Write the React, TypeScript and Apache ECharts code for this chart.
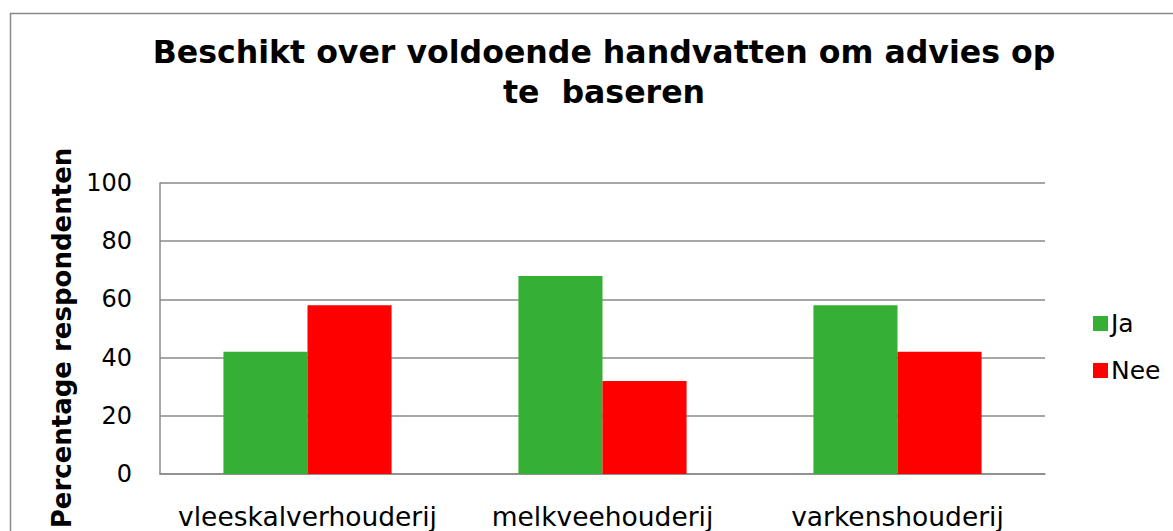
import React, { useEffect, useRef } from "react";
import * as echarts from "echarts";

const categories = ["vleeskalverhouderij", "melkveehouderij", "varkenshouderij"];
const jaValues = [42, 68, 58];
const neeValues = [58, 32, 42];
const seriesNames = ["Ja", "Nee"];
const titleLines = ["Beschikt over voldoende handvatten om advies op", "te  baseren"];
const yAxisName = "Percentage respondenten";

const FONT = "Verdana, 'DejaVu Sans', sans-serif";

export default function App() {
  const ref = useRef<HTMLDivElement>(null);
  useEffect(() => {
    if (!ref.current) return;
    const chart = echarts.init(ref.current, undefined, { renderer: "svg" });
    chart.setOption({
      animation: false,
      backgroundColor: "#ffffff",
      textStyle: { fontFamily: FONT },
      title: {
        text: titleLines.join("\n"),
        left: 599,
        top: 27,
        textAlign: "center",
        textStyle: {
          fontFamily: FONT,
          fontWeight: "bold",
          fontSize: 31.6,
          lineHeight: 40,
          color: "#000",
        },
      },
      graphic: [
        {
          type: "rect",
          shape: { x: 10.5, y: 13.5, width: 1300, height: 700 },
          style: { fill: "none", stroke: "#8a8a8a", lineWidth: 1.5 },
          silent: true,
        },
        {
          type: "text",
          x: 62,
          y: 338,
          rotation: Math.PI / 2,
          style: {
            text: yAxisName,
            fontFamily: FONT,
            fontWeight: "bold",
            fontSize: 26,
            fill: "#000",
            align: "center",
            verticalAlign: "middle",
          },
        },
      ],
      legend: {
        orient: "vertical",
        left: 1088,
        top: 306,
        itemWidth: 15,
        itemHeight: 15,
        itemGap: 22,
        icon: "rect",
        textStyle: { fontFamily: FONT, fontSize: 25, color: "#000", padding: [0, 0, 0, -2] },
        data: seriesNames,
      },
      grid: { left: 160, top: 183, right: 128, bottom: 57, containLabel: false },
      xAxis: {
        type: "category",
        data: categories,
        axisLine: { show: true, lineStyle: { color: "#8a8a8a", width: 1.5 } },
        axisTick: { show: false },
        axisLabel: { color: "#000", fontSize: 26.5, margin: 29, interval: 0, fontFamily: FONT },
      },
      yAxis: {
        type: "value",
        min: 0,
        max: 100,
        interval: 20,
        axisLine: { show: true, lineStyle: { color: "#8a8a8a", width: 1.5 } },
        axisTick: { show: false },
        axisLabel: { color: "#000", fontSize: 24, margin: 28, fontFamily: FONT },
        splitLine: { show: true, lineStyle: { color: "#8a8a8a", width: 1.5 } },
      },
      series: [
        {
          name: seriesNames[0],
          type: "bar",
          data: jaValues,
          barGap: "0%",
          barCategoryGap: "43%",
          itemStyle: { color: "#35b035" },
        },
        {
          name: seriesNames[1],
          type: "bar",
          data: neeValues,
          barGap: "0%",
          barCategoryGap: "43%",
          itemStyle: { color: "#ff0000" },
        },
      ],
    });
    return () => chart.dispose();
  }, []);
  return (
    <div
      ref={ref}
      style={{ position: "fixed", left: 0, top: 0, width: 1173, height: 531, background: "#fff" }}
    />
  );
}
